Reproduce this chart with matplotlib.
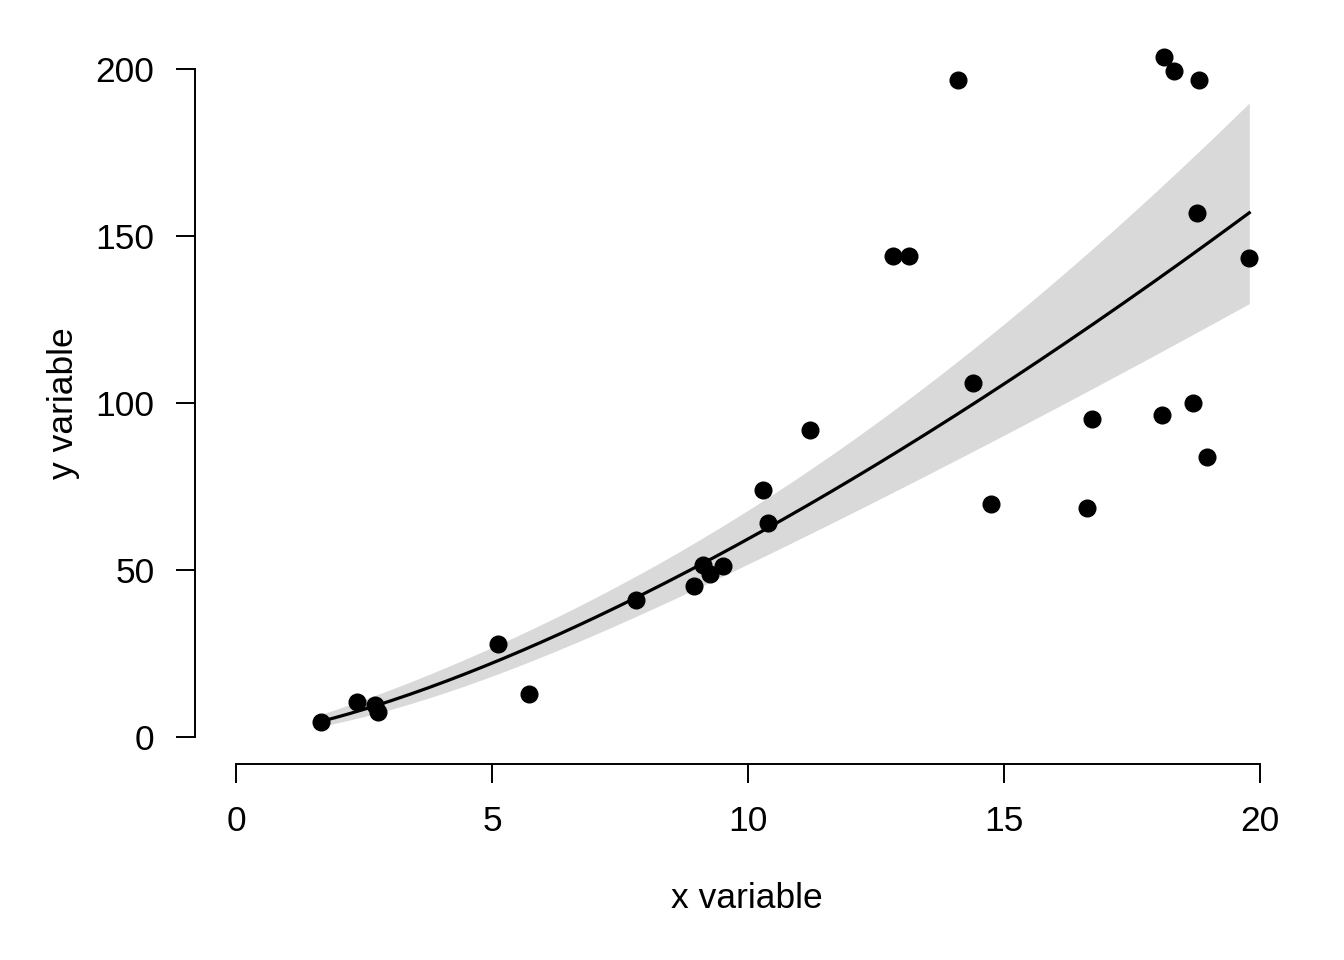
import math
import numpy as np
import matplotlib
matplotlib.use("Agg")
import matplotlib.pyplot as plt

x_vals = [1.66, 2.37, 2.71, 2.78, 5.12, 5.73, 7.81, 8.95, 9.13, 9.26, 9.52,
          10.30, 10.40, 11.22, 12.84, 13.15, 14.11, 14.40, 14.75, 16.63, 16.72,
          18.09, 18.13, 18.31, 18.70, 18.76, 18.81, 18.96, 19.79]
y_vals = [4.3, 10.5, 9.5, 7.5, 27.7, 12.8, 41.0, 45.2, 51.5, 48.7, 51.2,
          73.7, 64.0, 91.7, 143.8, 144.0, 196.5, 106.0, 69.7, 68.5, 95.2,
          96.4, 203.5, 199.3, 100.0, 156.8, 196.5, 83.8, 143.2]
x_ticks = [0, 5, 10, 15, 20]
y_ticks = [0, 50, 100, 150, 200]
x_label = "x variable"
y_label = "y variable"

x = np.array(x_vals)
y = np.array(y_vals)


def t_quantile(p, df):
    # numerical inverse of Student t CDF
    tt = np.linspace(0, 20, 200001)
    c = math.gamma((df + 1) / 2) / (math.sqrt(df * math.pi) * math.gamma(df / 2))
    dens = c * (1 + tt ** 2 / df) ** (-(df + 1) / 2)
    cdf = 0.5 + np.concatenate([[0], np.cumsum((dens[1:] + dens[:-1]) / 2 * np.diff(tt))])
    return float(np.interp(p, cdf, tt))


# linear model on log-log scale
lx = np.log(x)
ly = np.log(y)
X = np.column_stack([np.ones_like(lx), lx])
beta, *_ = np.linalg.lstsq(X, ly, rcond=None)
resid = ly - X @ beta
df = len(x) - 2
s2 = np.sum(resid ** 2) / df
cov = s2 * np.linalg.inv(X.T @ X)

xg = np.linspace(x.min(), x.max(), 200)
Xg = np.column_stack([np.ones_like(xg), np.log(xg)])
eta = Xg @ beta
se = np.sqrt(np.einsum("ij,jk,ik->i", Xg, cov, Xg))
tq = t_quantile(0.975, df)
fit = np.exp(eta)
lo = np.exp(eta - tq * se)
hi = np.exp(eta + tq * se)

plt.rcParams["font.family"] = ["Liberation Sans", "DejaVu Sans"]
fs = 25.5
fig = plt.figure(figsize=(13.44, 9.6), dpi=100)
ax = fig.add_axes([195 / 1344, 1 - 764 / 960, (1301 - 195) / 1344, (764 - 24.6) / 960])
ax.set_xlim(-0.8, 20.8)
ax.set_ylim(-8.2, 213.2)

ax.fill_between(xg, lo, hi, color="#D9D9D9", lw=0, zorder=1)
ax.plot(xg, fit, color="black", lw=2.3, zorder=2)
ax.plot(x, y, "o", color="black", markersize=12, zorder=3)

for s in ["top", "right"]:
    ax.spines[s].set_visible(False)
ax.spines["left"].set_bounds(0, 200)
ax.spines["bottom"].set_bounds(0, 20)
for s in ["left", "bottom"]:
    ax.spines[s].set_linewidth(1.4)
ax.set_xticks(x_ticks)
ax.set_yticks(y_ticks)
ax.tick_params(axis="both", length=13.7, width=1.4, labelsize=fs, colors="black")
ax.tick_params(axis="y", pad=15.5)
ax.tick_params(axis="x", pad=16)

fig.text(747 / 1344, 1 - 899 / 960, x_label, ha="center", va="center", fontsize=fs)
fig.text(63 / 1344, 1 - 403 / 960, y_label, ha="center", va="center", fontsize=fs, rotation=90)

fig.savefig("out.png", dpi=100)
